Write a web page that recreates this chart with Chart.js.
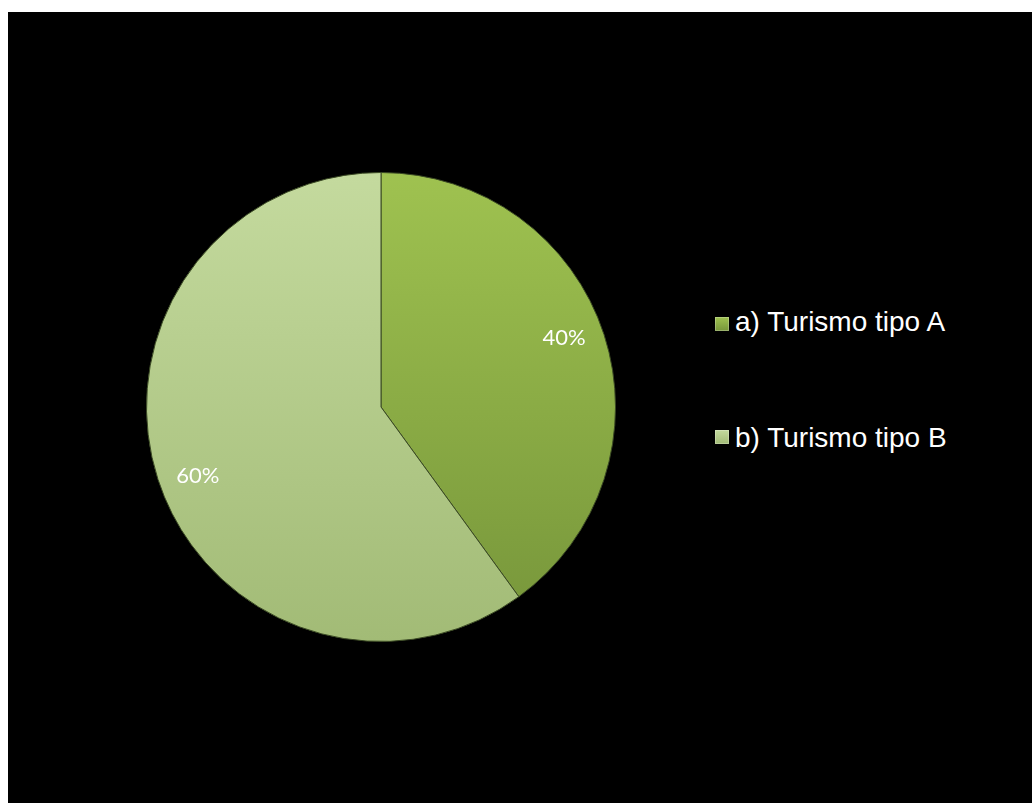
<!DOCTYPE html>
<html lang="es">
<head>
<meta charset="UTF-8">
<title>Turismo tipo A / B</title>
<script src="https://cdn.jsdelivr.net/npm/chart.js"></script>
<style>
  body { margin: 0; background: #fff; }
  #panel { position: absolute; left: 8px; top: 12px; right: 0; bottom: 0; background: #000; }
  #pieBox { position: absolute; left: 141px; top: 167px; width: 480px; height: 480px; }
  .leg { position: absolute; left: 715px; font: 28px "Liberation Sans", Arial, sans-serif; line-height: 32px; color: #fff; white-space: nowrap; }
  .leg i { position: absolute; left: 0; width: 14px; height: 14px; }
  .leg span { position: absolute; left: 20px; top: 0; }
</style>
</head>
<body>
<div id="panel"></div>
<div id="pieBox"><canvas id="pie"></canvas></div>
<div id="legend"></div>
<script>
  // categorias y valores (%)
  const categories = ['a) Turismo tipo A', 'b) Turismo tipo B'];
  const shares = [40, 60];

  // colores: arriba / abajo del degradado
  const topColors = ['#9fc250', '#c4da9e'];
  const bottomColors = ['#76953a', '#a2bb76'];

  function fillFor(ctx) {
    const chart = ctx.chart;
    const area = chart.chartArea;
    const i = ctx.dataIndex;
    if (!area) return topColors[i];
    const g = chart.ctx.createLinearGradient(0, area.top, 0, area.bottom);
    g.addColorStop(0, topColors[i]);
    g.addColorStop(1, bottomColors[i]);
    return g;
  }

  // etiquetas de porcentaje dentro de cada sector
  const pctLabels = {
    id: 'pctLabels',
    afterDatasetsDraw(chart) {
      const c = chart.ctx;
      const total = shares.reduce((a, b) => a + b, 0);
      chart.getDatasetMeta(0).data.forEach((arc, i) => {
        const p = arc.getProps(['x', 'y', 'startAngle', 'endAngle', 'outerRadius'], true);
        const mid = (p.startAngle + p.endAngle) / 2 - 0.047;
        const r = p.outerRadius * 0.835;
        c.save();
        c.fillStyle = '#fff';
        c.font = '22px Lato, "Open Sans", sans-serif';
        c.textAlign = 'center';
        c.textBaseline = 'middle';
        c.fillText(Math.round(shares[i] / total * 100) + '%', p.x + Math.cos(mid) * r, p.y + Math.sin(mid) * r);
        c.restore();
      });
    }
  };

  new Chart(document.getElementById('pie'), {
    type: 'pie',
    data: {
      labels: categories,
      datasets: [{
        data: shares,
        backgroundColor: fillFor,
        borderColor: '#3b4a24',
        borderWidth: 1
      }]
    },
    options: {
      responsive: true,
      maintainAspectRatio: false,
      animation: false,
      layout: { padding: 5 },
      plugins: {
        legend: { display: false },
        tooltip: { enabled: false }
      }
    },
    plugins: [pctLabels]
  });

  // leyenda a la derecha
  const legendTops = [306, 422];
  const legend = document.getElementById('legend');
  categories.forEach((name, i) => {
    const row = document.createElement('div');
    row.className = 'leg';
    row.style.top = legendTops[i] + 'px';
    row.innerHTML = '<i style="top:' + (i === 0 ? 11 : 8) + 'px;background:linear-gradient(' +
      topColors[i] + ',' + bottomColors[i] + ');box-shadow:inset 0 0 0 1px rgba(255,255,255,0.25)"></i><span></span>';
    row.querySelector('span').textContent = name;
    legend.appendChild(row);
  });
</script>
</body>
</html>
